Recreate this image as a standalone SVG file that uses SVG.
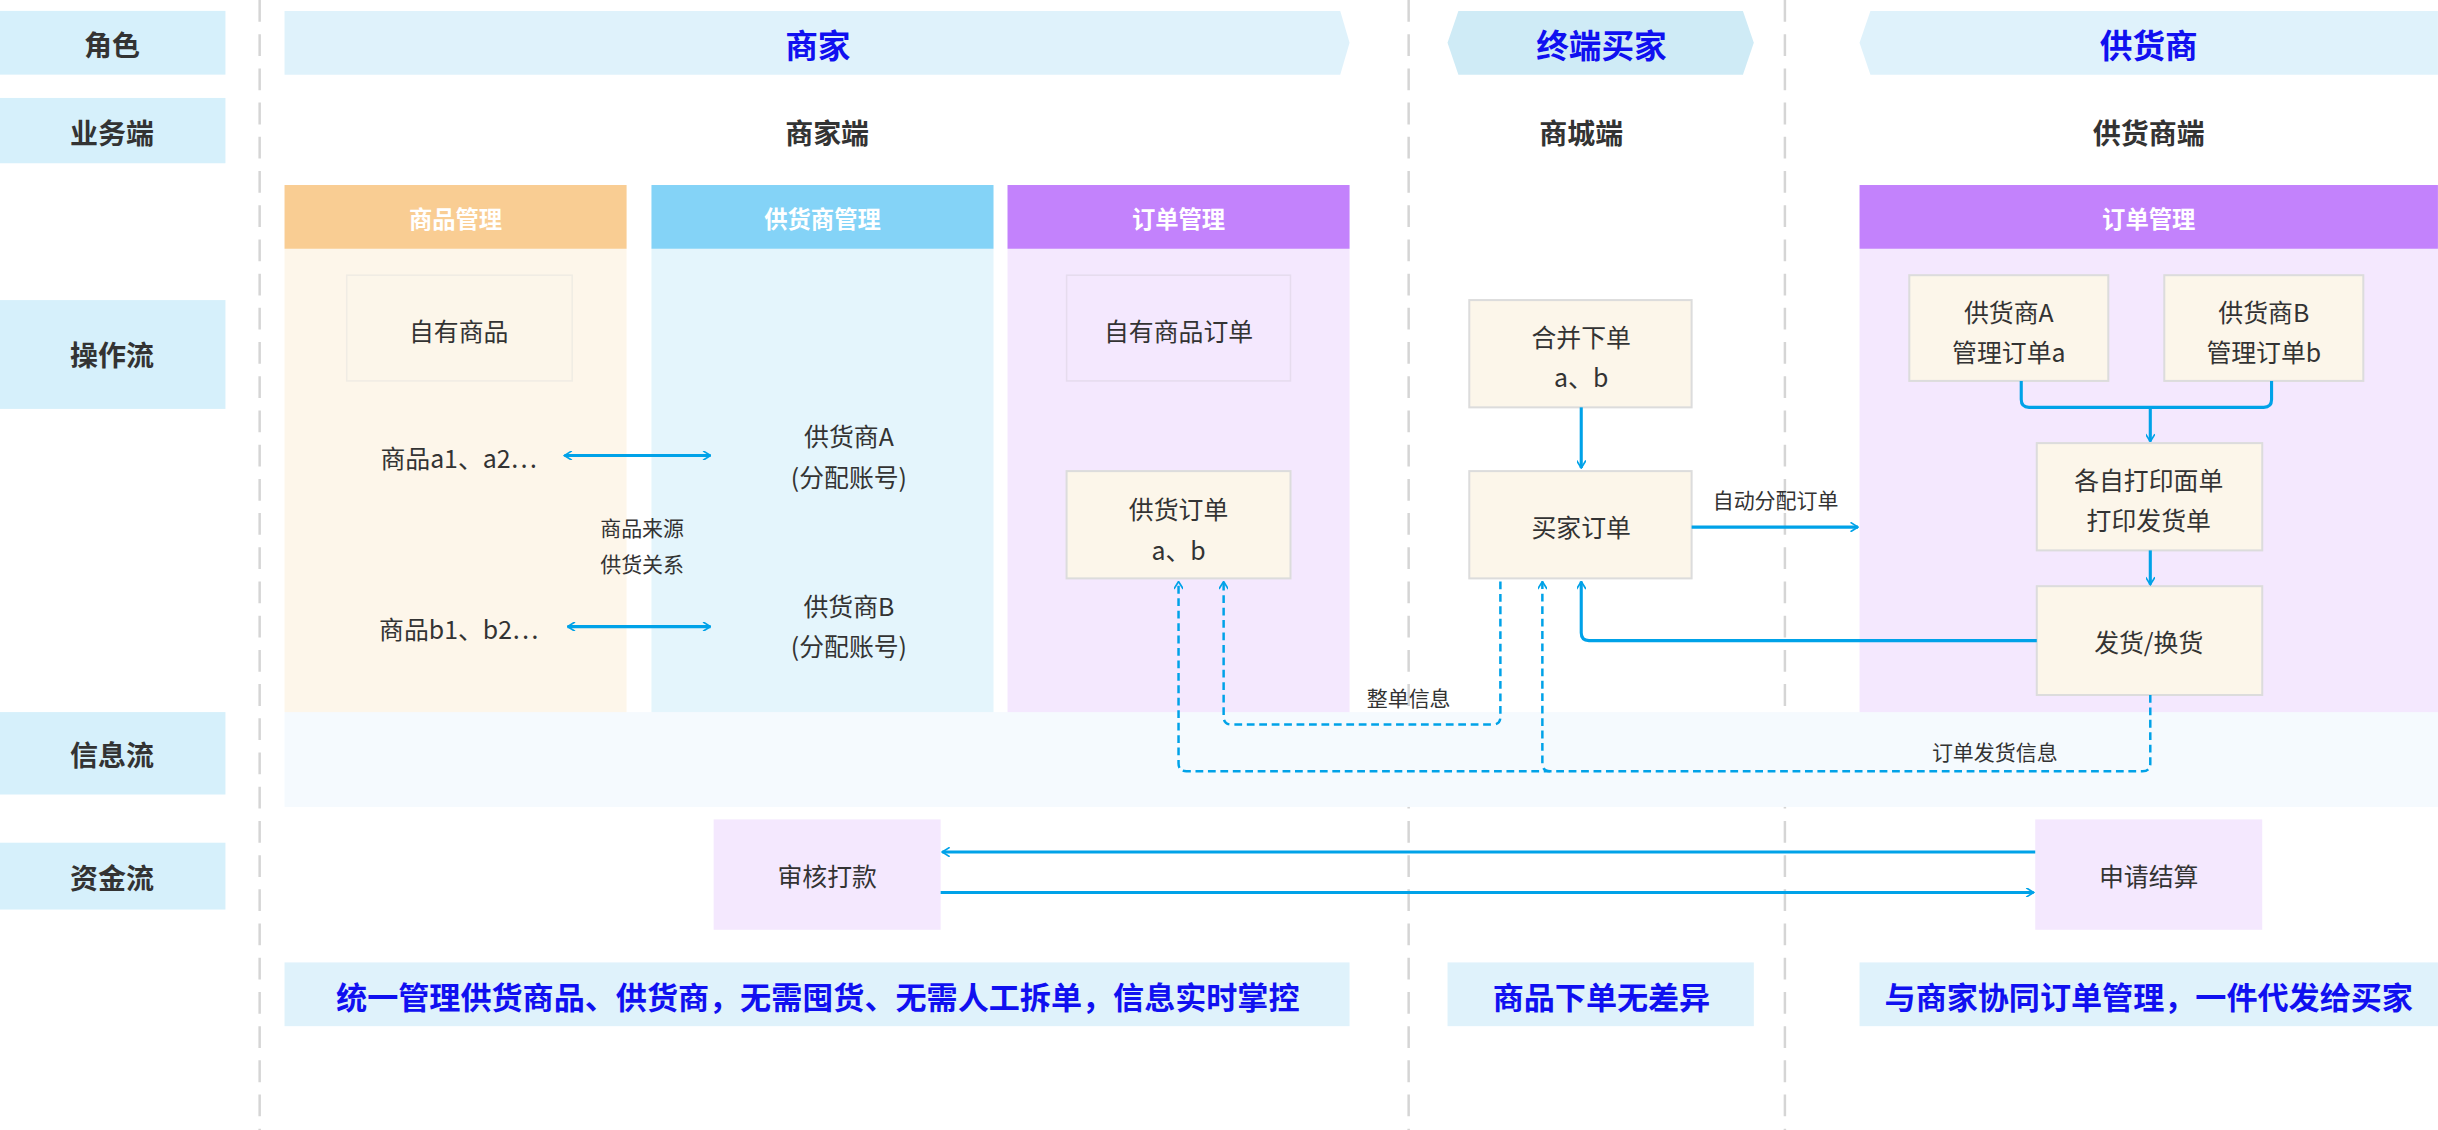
<svg xmlns="http://www.w3.org/2000/svg" width="2438" height="1130" viewBox="0 0 2438 1130">
<style>
text{font-family:"Noto Sans CJK SC","Liberation Sans",sans-serif;text-anchor:middle;dominant-baseline:central;fill:#333}
.lab{font-size:18px;font-weight:bold}
.ttl{font-size:21px;font-weight:bold;fill:#1010f0}
.sub{font-size:18px;font-weight:bold}
.hd{font-size:15px;font-weight:bold;fill:#fff}
.t{font-size:16px}
.s{font-size:13.5px}
.btm{font-size:20px;font-weight:bold;fill:#1010f0}
.box{fill:#fcf6ea;stroke:#dcdcdc;stroke-width:1.3}
.ln{fill:none;stroke:#00a2e8;stroke-width:2}
.dl{fill:none;stroke:#00a2e8;stroke-width:1.6;stroke-dasharray:5 3}
.vd{stroke:#d5d5d5;stroke-width:1.6;stroke-dasharray:14 8}
</style>
<defs>
<marker id="ah" viewBox="0 0 10 10" refX="9" refY="5" markerWidth="6" markerHeight="6" orient="auto-start-reverse" markerUnits="userSpaceOnUse"><path d="M1 0 L9 5 L1 10" fill="none" stroke="#00a2e8" stroke-width="1.8"/></marker>
</defs>
<rect width="2438" height="1130" fill="#fff"/>
<g transform="scale(1.5548)">
<g id="labels">
<rect x="0" y="7" width="145" height="41" fill="#d6f0fb"/><text class="lab" x="72" y="28">角色</text>
<rect x="0" y="63" width="145" height="42" fill="#d6f0fb"/><text class="lab" x="72" y="85">业务端</text>
<rect x="0" y="193" width="145" height="70" fill="#d6f0fb"/><text class="lab" x="72" y="228">操作流</text>
<rect x="0" y="458" width="145" height="53" fill="#d6f0fb"/><text class="lab" x="72" y="485">信息流</text>
<rect x="0" y="542" width="145" height="43" fill="#d6f0fb"/><text class="lab" x="72" y="564">资金流</text>
</g>
<g id="dividers">
<line class="vd" x1="167" y1="0" x2="167" y2="727"/>
<line class="vd" x1="906" y1="0" x2="906" y2="727"/>
<line class="vd" x1="1148" y1="0" x2="1148" y2="727"/>
</g>
<g id="roles">
<path d="M183 7 H862 L868 27.5 L862 48 H183 Z" fill="#dff2fb"/><text class="ttl" x="526" y="28">商家</text>
<path d="M938 7 H1121 L1128 27.5 L1121 48 H938 L931 27.5 Z" fill="#cfebf6"/><text class="ttl" x="1030" y="28">终端买家</text>
<path d="M1203 7 H1568 V48 H1203 L1196 27.5 Z" fill="#dff2fb"/><text class="ttl" x="1382" y="28">供货商</text>
<text class="sub" x="532" y="85">商家端</text>
<text class="sub" x="1017" y="85">商城端</text>
<text class="sub" x="1382" y="85">供货商端</text>
</g>
<g id="info-band"><rect x="183" y="458" width="1385" height="61" fill="#f5fafe"/></g>
<g id="col-goods">
<rect x="183" y="160" width="220" height="298" fill="#fdf6ea"/>
<rect x="183" y="119" width="220" height="41" fill="#f9cd93"/><text class="hd" x="293" y="140">商品管理</text>
</g>
<g id="col-supplier">
<rect x="419" y="160" width="220" height="298" fill="#e4f5fc"/>
<rect x="419" y="119" width="220" height="41" fill="#84d3f7"/><text class="hd" x="529" y="140">供货商管理</text>
</g>
<g id="col-order">
<rect x="648" y="160" width="220" height="298" fill="#f4e8fe"/>
<rect x="648" y="119" width="220" height="41" fill="#c382fc"/><text class="hd" x="758" y="140">订单管理</text>
</g>
<g id="col-supplier-order">
<rect x="1196" y="160" width="372" height="298" fill="#f4e8fe"/>
<rect x="1196" y="119" width="372" height="41" fill="#c382fc"/><text class="hd" x="1382" y="140">订单管理</text>
</g>
<g id="own-goods"><rect x="223" y="177" width="145" height="68" fill="#fcf6ea" stroke="#f0ece4"/><text class="t" x="295" y="212">自有商品</text></g>
<g id="own-order"><rect x="686" y="177" width="144" height="68" fill="#f4e8fe" stroke="#e6dcee"/><text class="t" x="758" y="212">自有商品订单</text></g>
<g id="goods-a"><text class="t" x="295" y="294">商品a1、a2…</text></g>
<g id="goods-b"><text class="t" x="295" y="404">商品b1、b2…</text></g>
<g id="sup-a"><text class="t" x="546" y="280">供货商A</text><text class="t" x="546" y="306">(分配账号)</text></g>
<g id="sup-b"><text class="t" x="546" y="389">供货商B</text><text class="t" x="546" y="415">(分配账号)</text></g>
<g id="rel"><text class="s" x="413" y="339">商品来源</text><text class="s" x="413" y="362">供货关系</text></g>
<g id="supply-order"><rect class="box" x="686" y="303" width="144" height="69"/><text class="t" x="758" y="327">供货订单</text><text class="t" x="758" y="353">a、b</text></g>
<g id="merge"><rect class="box" x="945" y="193" width="143" height="69"/><text class="t" x="1017" y="216">合并下单</text><text class="t" x="1017" y="242">a、b</text></g>
<g id="buyer-order"><rect class="box" x="945" y="303" width="143" height="69"/><text class="t" x="1017" y="338">买家订单</text></g>
<g id="sa-order"><rect class="box" x="1228" y="177" width="128" height="68"/><text class="t" x="1292" y="200">供货商A</text><text class="t" x="1292" y="226">管理订单a</text></g>
<g id="sb-order"><rect class="box" x="1392" y="177" width="128" height="68"/><text class="t" x="1456" y="200">供货商B</text><text class="t" x="1456" y="226">管理订单b</text></g>
<g id="print"><rect class="box" x="1310" y="285" width="145" height="69"/><text class="t" x="1382" y="308">各自打印面单</text><text class="t" x="1382" y="334">打印发货单</text></g>
<g id="ship"><rect class="box" x="1310" y="377" width="145" height="70"/><text class="t" x="1382" y="412">发货/换货</text></g>
<g id="audit"><rect x="459" y="527" width="146" height="71" fill="#f4e8fe"/><text class="t" x="532" y="563">审核打款</text></g>
<g id="settle"><rect x="1309" y="527" width="146" height="71" fill="#f4e8fe"/><text class="t" x="1382" y="563">申请结算</text></g>
<g id="summary">
<rect x="183" y="619" width="685" height="41" fill="#dff2fb"/><text class="btm" x="526" y="640">统一管理供货商品、供货商，无需囤货、无需人工拆单，信息实时掌控</text>
<rect x="931" y="619" width="197" height="41" fill="#dff2fb"/><text class="btm" x="1030" y="640">商品下单无差异</text>
<rect x="1196" y="619" width="372" height="41" fill="#dff2fb"/><text class="btm" x="1382" y="640">与商家协同订单管理，一件代发给买家</text>
</g>
<g id="connectors">
<line class="ln" x1="363" y1="293" x2="457" y2="293" stroke-width="2.5" marker-start="url(#ah)" marker-end="url(#ah)"/>
<line class="ln" x1="365" y1="403" x2="457" y2="403" stroke-width="2.5" marker-start="url(#ah)" marker-end="url(#ah)"/>
<line class="ln" x1="1017" y1="262" x2="1017" y2="301" marker-end="url(#ah)"/>
<line class="ln" x1="1088" y1="339" x2="1195" y2="339" stroke-width="2.5" marker-end="url(#ah)"/>
<text class="s" x="1142" y="321">自动分配订单</text>
<path class="ln" d="M1300 245 V257 Q1300 262 1305 262 H1456 Q1461 262 1461 257 V245 M1383 262 V284" marker-end="url(#ah)"/>
<line class="ln" x1="1383" y1="354" x2="1383" y2="376" marker-end="url(#ah)"/>
<path class="ln" d="M1310 412 H1022 Q1017 412 1017 407 V374" stroke-width="2.5" marker-end="url(#ah)"/>
<path class="dl" d="M965 374 V461 Q965 466 960 466 H792 Q787 466 787 461 V374" marker-end="url(#ah)"/>
<text class="s" x="906" y="448">整单信息</text>
<path class="dl" d="M1383 447 V491 Q1383 496 1378 496 H763 Q758 496 758 491 V374" marker-end="url(#ah)"/>
<path class="dl" d="M997 496 Q992 496 992 491 V374" marker-end="url(#ah)"/>
<text class="s" x="1283" y="483">订单发货信息</text>
<line class="ln" x1="1309" y1="548" x2="606" y2="548" stroke-width="2.5" marker-end="url(#ah)"/>
<line class="ln" x1="605" y1="574" x2="1308" y2="574" stroke-width="2.5" marker-end="url(#ah)"/>
</g>
</g>
</svg>
